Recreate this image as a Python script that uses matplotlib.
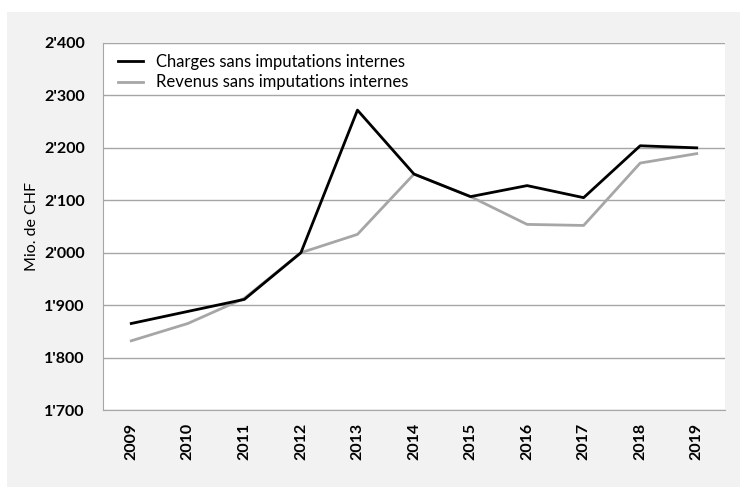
import matplotlib.pyplot as plt
from matplotlib.patches import Rectangle
from matplotlib.ticker import FuncFormatter

plt.rcParams['font.family'] = ['Lato', 'DejaVu Sans']

years = ["2009", "2010", "2011", "2012", "2013", "2014", "2015", "2016", "2017", "2018", "2019"]
charges = [1865, 1888, 1911, 2000, 2272, 2150, 2107, 2128, 2105, 2204, 2200]
revenus = [1832, 1865, 1913, 2000, 2035, 2150, 2107, 2054, 2052, 2171, 2189]

fig = plt.figure(figsize=(7.4, 4.87), dpi=100)
fig.patch.set_facecolor("white")
# light grey panel behind the chart
fig.patches.append(Rectangle((7 / 740, 0), 1 - 7 / 740, 1 - 12 / 487,
                             transform=fig.transFigure, facecolor="#f2f2f2",
                             edgecolor="none", zorder=-1))

ax = fig.add_axes([103 / 740, 1 - 410 / 487, 622 / 740, 367 / 487])
ax.set_facecolor("white")

x = range(len(years))
ax.plot(x, charges, color="black", lw=2, label="Charges sans imputations internes", zorder=3)
ax.plot(x, revenus, color="#a6a6a6", lw=2, label="Revenus sans imputations internes", zorder=2)

ax.set_xlim(-0.5, len(years) - 0.5)
ax.set_ylim(1700, 2400)
ax.set_yticks(range(1700, 2401, 100))
ax.yaxis.set_major_formatter(FuncFormatter(lambda v, p: f"{int(v):,}".replace(",", "'")))
ax.set_xticks(list(x))
ax.set_xticklabels(years, rotation=90, fontweight="bold", fontsize=11.5)
for t in ax.get_yticklabels():
    t.set_fontweight("bold")
    t.set_fontsize(11.5)

ax.grid(axis="y", color="#a6a6a6", lw=1)
ax.set_axisbelow(True)
ax.tick_params(length=0)
ax.tick_params(axis="y", pad=13)
ax.tick_params(axis="x", pad=9)
for s in ["top", "right"]:
    ax.spines[s].set_visible(False)
for s in ["left", "bottom"]:
    ax.spines[s].set_color("#a6a6a6")

ax.set_ylabel("Mio. de CHF", fontsize=11.5, labelpad=4)

ax.legend(loc="upper left", frameon=False, fontsize=12, handlelength=1.5,
          bbox_to_anchor=(0.0, 1.01), labelspacing=0.25, handletextpad=0.8)

fig.savefig("out.png", dpi=100)
